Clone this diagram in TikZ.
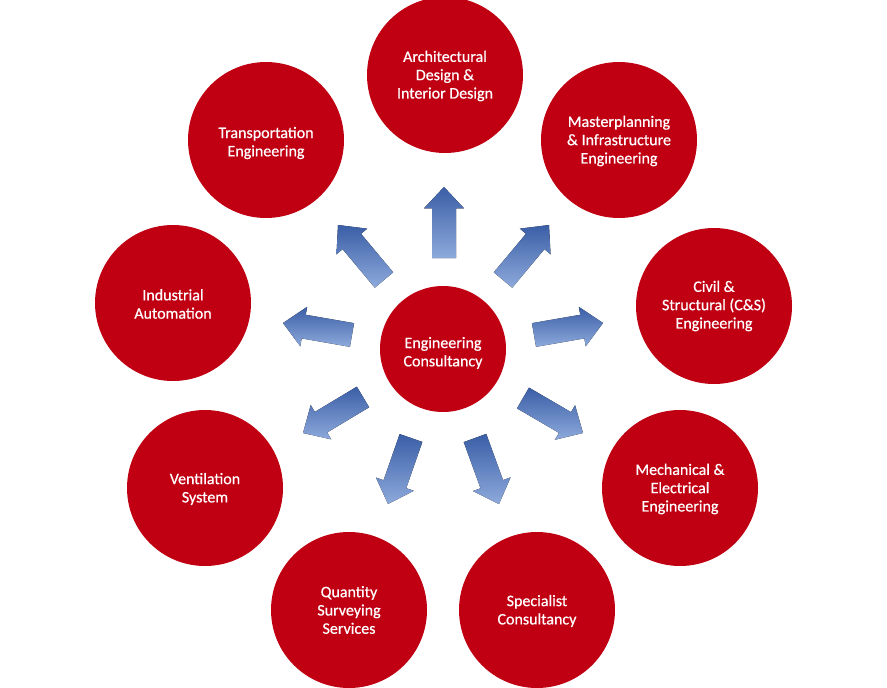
\documentclass[tikz,border=0pt]{standalone}
\usepackage{fontspec}
\setmainfont{Carlito}[FakeBold=0.6]
\usetikzlibrary{calc}
\definecolor{circred}{RGB}{192,0,18}
\definecolor{arrdark}{RGB}{58,94,166}
\definecolor{arrmid}{RGB}{76,120,196}
\definecolor{arrlight}{RGB}{142,170,220}
\tikzset{
  bubble/.style={circle, fill=circred, draw=none, inner sep=0pt, minimum size=156pt},
  hub/.style={bubble, minimum size=126pt},
  lbl/.style={text=white, align=center, inner sep=0pt, font=\fontsize{16}{18.3}\selectfont},
  blockarr/.style={draw=none, top color=arrdark, middle color=arrmid, bottom color=arrlight}
}
\newcommand{\blockarrow}[2]{%
  \fill[blockarr]
    ($(#1)!12pt!90:(#2)$) --
    ($($(#1)!0.7!(#2)$)!12pt!90:(#2)$) --
    ($($(#1)!0.7!(#2)$)!20pt!90:(#2)$) --
    (#2) --
    ($($(#1)!0.7!(#2)$)!20pt!-90:(#2)$) --
    ($($(#1)!0.7!(#2)$)!12pt!-90:(#2)$) --
    ($(#1)!12pt!-90:(#2)$) -- cycle;}
\begin{document}
\begin{tikzpicture}[x=1pt,y=-1pt]
\useasboundingbox[fill=white] (0,0) rectangle (887,688);
% circles
\node[hub, label={[lbl, yshift=-4pt]center:{Engineering\\Consultancy}}] (hub) at (443,349) {};
\node[bubble, label={[lbl, yshift=-1pt]center:{Architectural\\Design \&\\Interior Design}}] (arch) at (445,75) {};
\node[bubble, label={[lbl, yshift=-1pt]center:{Masterplanning\\\& Infrastructure\\Engineering}}] (master) at (619,140) {};
\node[bubble, label={[lbl, yshift=0pt]center:{Civil \&\\Structural (C\&S)\\Engineering}}] (civil) at (714,306) {};
\node[bubble, label={[lbl, yshift=-1pt]center:{Mechanical \&\\Electrical\\Engineering}}] (mech) at (680,488) {};
\node[bubble, label={[lbl, yshift=-1pt]center:{Specialist\\Consultancy}}] (spec) at (537,610) {};
\node[bubble, label={[lbl, yshift=0pt]center:{Quantity\\Surveying\\Services}}] (quant) at (349,610) {};
\node[bubble, label={[lbl, yshift=-1pt]center:{Ventilation\\System}}] (vent) at (205,488) {};
\node[bubble, label={[lbl, yshift=-1pt]center:{Industrial\\Automation}}] (indus) at (173,303) {};
\node[bubble, label={[lbl, yshift=-3pt]center:{Transportation\\Engineering}}] (trans) at (266,140) {};
% arrow tails and tips
\coordinate (tA) at (444,258); \coordinate (pA) at (444,187);
\coordinate (tB) at (503,280); \coordinate (pB) at (549,225);
\coordinate (tC) at (534,335); \coordinate (pC) at (603,323);
\coordinate (tD) at (523,398); \coordinate (pD) at (583,433);
\coordinate (tE) at (475,438); \coordinate (pE) at (499,504);
\coordinate (tF) at (411,438); \coordinate (pF) at (388,504);
\coordinate (tG) at (363,397); \coordinate (pG) at (303,433);
\coordinate (tH) at (352,335); \coordinate (pH) at (283,323);
\coordinate (tI) at (384,280); \coordinate (pI) at (338,225);
\blockarrow{tA}{pA}
\blockarrow{tB}{pB}
\blockarrow{tC}{pC}
\blockarrow{tD}{pD}
\blockarrow{tE}{pE}
\blockarrow{tF}{pF}
\blockarrow{tG}{pG}
\blockarrow{tH}{pH}
\blockarrow{tI}{pI}
\end{tikzpicture}
\end{document}
